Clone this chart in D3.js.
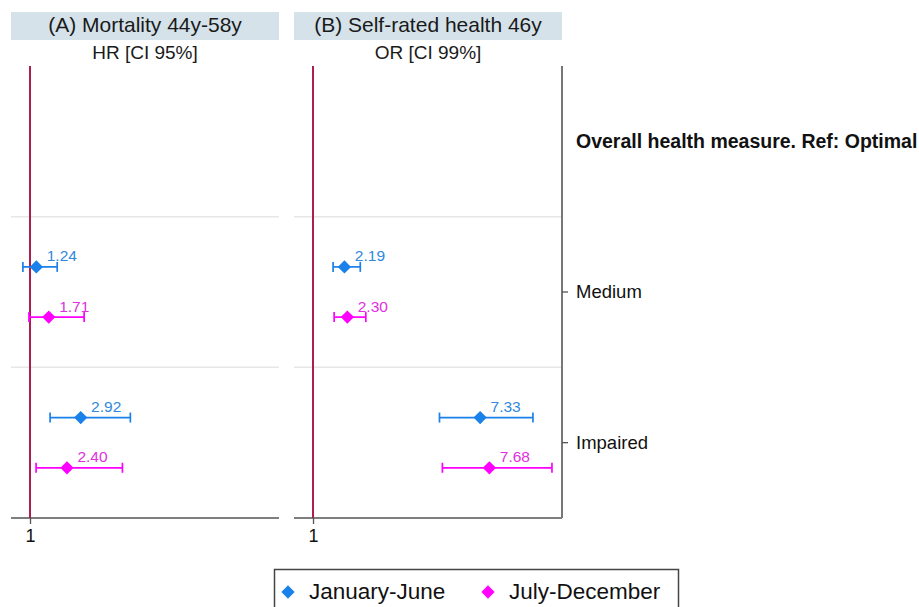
<!DOCTYPE html>
<html>
<head>
<meta charset="utf-8">
<script src="https://cdn.jsdelivr.net/npm/d3@7"></script>
<style>
  html, body { margin: 0; padding: 0; background: #fff; }
  svg { display: block; }
  text { font-family: "Liberation Sans", Arial, Helvetica, sans-serif; }
</style>
</head>
<body>
<svg id="chart" width="919" height="607"></svg>
<script>
// ---- data ----
const categories = ["Overall health measure. Ref: Optimal", "Medium", "Impaired"];
const seriesNames = ["January-June", "July-December"];
const xTicks = [1];

const panelTitles = ["(A) Mortality 44y-58y", "(B) Self-rated health 46y"];
const panelSubtitles = ["HR [CI 95%]", "OR [CI 99%]"];

// Panel A: Mortality HR [CI 95%]
const mortJanEst = [null, 1.24, 2.92];
const mortJanLo  = [null, 0.73, 1.76];
const mortJanHi  = [null, 2.03, 4.80];
const mortJulEst = [null, 1.71, 2.40];
const mortJulLo  = [null, 0.96, 1.23];
const mortJulHi  = [null, 3.05, 4.50];

// Panel B: Self-rated health OR [CI 99%]
const srhJanEst = [null, 2.19, 7.33];
const srhJanLo  = [null, 1.76, 5.79];
const srhJanHi  = [null, 2.79, 9.33];
const srhJulEst = [null, 2.30, 7.68];
const srhJulLo  = [null, 1.80, 5.90];
const srhJulHi  = [null, 3.00, 10.05];

const seriesColors = ["#1a80ea", "#ff00ff"];
const labelColors = ["#2f88dc", "#e030e0"];

// ---- layout ----
const svg = d3.select("#chart");
const plotTop = 66, plotBottom = 518;
const panelLefts = [11, 294];
const panelWidth = 268;
const fontFamily = '"Liberation Sans", Arial, Helvetica, sans-serif';

const y = d3.scaleBand().domain(categories).range([plotTop, plotBottom]).paddingInner(0).paddingOuter(0);
const bw = y.bandwidth();
const ySeries = d3.scalePoint().domain(seriesNames).range([-bw / 6, bw / 6]);
const x = d3.scaleLinear().domain([0.28, 10.43]).range([0, panelWidth]);

function buildRows(est, lo, hi, sIdx) {
  return categories.map((c, i) => ({cat: c, series: seriesNames[sIdx], est: est[i], lo: lo[i], hi: hi[i], s: sIdx}))
    .filter(d => d.est !== null);
}

const panels = [
  [buildRows(mortJanEst, mortJanLo, mortJanHi, 0), buildRows(mortJulEst, mortJulLo, mortJulHi, 1)],
  [buildRows(srhJanEst, srhJanLo, srhJanHi, 0), buildRows(srhJulEst, srhJulLo, srhJulHi, 1)]
];

const diamond = d3.symbol().type(d3.symbolSquare).size(88);

panels.forEach((pdata, p) => {
  const g = svg.append("g").attr("transform", `translate(${panelLefts[p]},0)`);

  // header bar
  g.append("rect").attr("x", 0).attr("y", 12).attr("width", panelWidth).attr("height", 28)
    .attr("fill", "#d5e2ea");
  g.append("text").attr("x", panelWidth / 2).attr("y", 31.5).attr("text-anchor", "middle")
    .attr("font-size", 21).attr("fill", "#1a1a1a").text(panelTitles[p]);
  g.append("text").attr("x", panelWidth / 2).attr("y", 58.5).attr("text-anchor", "middle")
    .attr("font-size", 19).attr("fill", "#1a1a1a").text(panelSubtitles[p]);

  // gridlines between categories
  const bounds = categories.slice(1).map(c => y(c));
  g.selectAll(".grid").data(bounds).enter().append("line")
    .attr("x1", 0).attr("x2", panelWidth).attr("y1", d => d).attr("y2", d => d)
    .attr("stroke", "#e6e8e8").attr("stroke-width", 1.5);

  // bottom axis
  const axis = d3.axisBottom(x).tickValues(xTicks).tickSize(6).tickFormat(d3.format("d"));
  const ax = g.append("g").attr("transform", `translate(0,${plotBottom})`).call(axis);
  ax.select(".domain").attr("d", `M0,0H${panelWidth}`).attr("stroke", "#555").attr("stroke-width", 1.6);
  ax.selectAll(".tick line").attr("stroke", "#555").attr("stroke-width", 1.3);
  ax.selectAll(".tick text").attr("font-size", 18).attr("font-family", fontFamily)
    .attr("fill", "#111").attr("dy", "0.95em").attr("y", 7);

  // reference line at 1
  g.append("line").attr("x1", x(1)).attr("x2", x(1)).attr("y1", plotTop).attr("y2", plotBottom)
    .attr("stroke", "#ab1f50").attr("stroke-width", 2);

  // series
  pdata.forEach((rows, s) => {
    const col = seriesColors[s];
    const sg = g.append("g");
    rows.forEach(d => {
      const yy = y(d.cat) + bw / 2 + ySeries(d.series);
      sg.append("line").attr("x1", x(d.lo)).attr("x2", x(d.hi)).attr("y1", yy).attr("y2", yy)
        .attr("stroke", col).attr("stroke-width", 1.7);
      [d.lo, d.hi].forEach(v => {
        sg.append("line").attr("x1", x(v)).attr("x2", x(v)).attr("y1", yy - 5).attr("y2", yy + 5)
          .attr("stroke", col).attr("stroke-width", 1.7);
      });
      sg.append("path").attr("d", diamond())
        .attr("transform", `translate(${x(d.est)},${yy}) rotate(45)`)
        .attr("fill", col);
      sg.append("text").attr("x", x(d.est) + 25.5).attr("y", yy - 5.5)
        .attr("text-anchor", "middle").attr("font-size", 15.5).attr("fill", labelColors[s])
        .text(d3.format(".2f")(d.est));
    });
  });

  // right axis on last panel
  if (p === panels.length - 1) {
    const ra = g.append("g").attr("transform", `translate(${panelWidth},0)`);
    ra.append("line").attr("x1", 0).attr("x2", 0).attr("y1", plotTop).attr("y2", plotBottom)
      .attr("stroke", "#777").attr("stroke-width", 2);
    categories.forEach((c, i) => {
      const cy = y(c) + bw / 2;
      if (i === 0) {
        ra.append("text").attr("x", 14).attr("y", cy + 6.5).attr("font-size", 19.5)
          .attr("font-weight", "bold").attr("fill", "#111").text(c);
      } else {
        ra.append("line").attr("x1", 0).attr("x2", 6).attr("y1", cy).attr("y2", cy)
          .attr("stroke", "#555").attr("stroke-width", 1.3);
        ra.append("text").attr("x", 14).attr("y", cy + 6).attr("font-size", 18.5)
          .attr("fill", "#111").text(c);
      }
    });
  }
});

// legend
const lg = svg.append("g");
lg.append("rect").attr("x", 274.5).attr("y", 569.5).attr("width", 404).attr("height", 50)
  .attr("fill", "#fff").attr("stroke", "#444").attr("stroke-width", 1.5);
const legendItems = [{name: seriesNames[0], col: seriesColors[0], x: 288}, {name: seriesNames[1], col: seriesColors[1], x: 488}];
legendItems.forEach(it => {
  lg.append("path").attr("d", diamond()).attr("transform", `translate(${it.x},592) rotate(45)`).attr("fill", it.col);
  lg.append("text").attr("x", it.x + 21).attr("y", 599).attr("font-size", 22.5).attr("fill", "#111").text(it.name);
});
</script>
</body>
</html>
